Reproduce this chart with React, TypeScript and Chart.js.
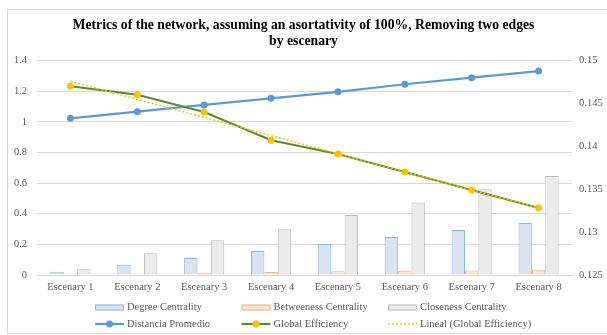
import { useEffect, useRef } from 'react';
import { Chart, registerables } from 'chart.js';

Chart.register(...registerables);

const categories = [
  'Escenary 1', 'Escenary 2', 'Escenary 3', 'Escenary 4',
  'Escenary 5', 'Escenary 6', 'Escenary 7', 'Escenary 8',
];
const degreeCentrality = [0.021, 0.067, 0.111, 0.157, 0.202, 0.248, 0.294, 0.339];
const betweenessCentrality = [0.001, 0.003, 0.013, 0.019, 0.024, 0.028, 0.029, 0.035];
const closenessCentrality = [0.041, 0.142, 0.226, 0.298, 0.392, 0.474, 0.559, 0.646];
const distanciaPromedio = [1.023, 1.066, 1.11, 1.153, 1.196, 1.245, 1.288, 1.331];
const globalEfficiency = [0.147, 0.146, 0.144, 0.1407, 0.1391, 0.137, 0.1349, 0.1328];

const titleLines = [
  'Metrics of the network, assuming an asortativity of 100%, Removing two edges',
  'by escenary',
];

// Excel-style linear trendline (least squares) of the Global Efficiency series
function linearTrend(values: number[]): number[] {
  const n = values.length;
  const xs = values.map((_, i) => i + 1);
  const mx = xs.reduce((a, b) => a + b, 0) / n;
  const my = values.reduce((a, b) => a + b, 0) / n;
  let num = 0;
  let den = 0;
  for (let i = 0; i < n; i++) {
    num += (xs[i] - mx) * (values[i] - my);
    den += (xs[i] - mx) * (xs[i] - mx);
  }
  const slope = num / den;
  const intercept = my - slope * mx;
  return xs.map((x) => intercept + slope * x);
}

const SERIF = '"Liberation Serif", "Times New Roman", serif';
const TICK_COLOR = '#595959';
const GRID_COLOR = '#d9d9d9';

const fmt = (v: number | string) => String(parseFloat(Number(v).toFixed(4)));

const legendPlugin = {
  id: 'excelLegend',
  afterDraw(chart: any) {
    const ctx = chart.ctx as CanvasRenderingContext2D;
    const left = 95;
    const colW = 146.5;
    const top = 307.5;
    const rowH = 16.5;
    const symW = 29;
    ctx.save();
    ctx.font = `10.5px ${SERIF}`;
    ctx.textBaseline = 'middle';
    ctx.textAlign = 'left';
    chart.data.datasets.forEach((ds: any, i: number) => {
      const col = i % 3;
      const row = Math.floor(i / 3);
      const x = left + col * colW;
      const y = top + row * rowH;
      if (ds.type === 'bar') {
        ctx.fillStyle = ds.backgroundColor;
        ctx.fillRect(x, y - 3, symW, 6);
        ctx.strokeStyle = ds.borderColor;
        ctx.lineWidth = 1;
        ctx.strokeRect(x + 0.5, y - 2.5, symW - 1, 5);
      } else {
        ctx.strokeStyle = ds.borderColor;
        ctx.lineWidth = ds.borderWidth;
        ctx.setLineDash(ds.borderDash || []);
        ctx.beginPath();
        ctx.moveTo(x, y);
        ctx.lineTo(x + symW, y);
        ctx.stroke();
        ctx.setLineDash([]);
        if (ds.pointRadius > 0) {
          ctx.fillStyle = ds.pointBackgroundColor;
          ctx.beginPath();
          ctx.arc(x + symW / 2, y, ds.pointRadius, 0, Math.PI * 2);
          ctx.fill();
        }
      }
      ctx.fillStyle = TICK_COLOR;
      ctx.fillText(ds.label, x + symW + 3, y);
    });
    ctx.restore();
  },
};

export default function App() {
  const canvasRef = useRef<HTMLCanvasElement | null>(null);

  useEffect(() => {
    if (!canvasRef.current) return;
    const trend = linearTrend(globalEfficiency);
    const chart = new Chart(canvasRef.current, {
      data: {
        labels: categories,
        datasets: [
          {
            type: 'bar',
            label: 'Degree Centrality',
            data: degreeCentrality,
            yAxisID: 'y',
            backgroundColor: '#dae3f3',
            borderColor: '#8fb6e0',
            borderWidth: 1,
            categoryPercentage: 0.6,
            barPercentage: 1,
            order: 5,
          },
          {
            type: 'bar',
            label: 'Betweeness Centrality',
            data: betweenessCentrality,
            yAxisID: 'y',
            backgroundColor: '#fbe5d6',
            borderColor: '#f4b183',
            borderWidth: 1,
            categoryPercentage: 0.6,
            barPercentage: 1,
            order: 5,
          },
          {
            type: 'bar',
            label: 'Closeness Centrality',
            data: closenessCentrality,
            yAxisID: 'y',
            backgroundColor: '#ebebeb',
            borderColor: '#bcbcbc',
            borderWidth: 1,
            categoryPercentage: 0.6,
            barPercentage: 1,
            order: 5,
          },
          {
            type: 'line',
            label: 'Distancia Promedio',
            data: distanciaPromedio,
            yAxisID: 'y',
            borderColor: '#5b9bd5',
            backgroundColor: '#5b9bd5',
            borderWidth: 2.25,
            pointRadius: 3.5,
            pointBackgroundColor: '#5b9bd5',
            pointBorderWidth: 0,
            tension: 0,
            order: 3,
          },
          {
            type: 'line',
            label: 'Global Efficiency',
            data: globalEfficiency,
            yAxisID: 'y1',
            borderColor: '#5a8a32',
            backgroundColor: '#ffc000',
            borderWidth: 2,
            pointRadius: 3.5,
            pointBackgroundColor: '#ffc000',
            pointBorderWidth: 0,
            tension: 0,
            order: 2,
          },
          {
            type: 'line',
            label: 'Lineal (Global Efficiency)',
            data: trend,
            yAxisID: 'y1',
            borderColor: '#ffc000',
            backgroundColor: '#ffc000',
            borderWidth: 1.5,
            borderDash: [2, 2],
            pointRadius: 0,
            tension: 0,
            order: 1,
          },
        ],
      } as any,
      options: {
        responsive: false,
        animation: false,
        devicePixelRatio: 1,
        layout: { padding: { left: 0, right: 0, top: 0, bottom: 40 } },
        plugins: {
          legend: { display: false },
          tooltip: { enabled: false },
          title: {
            display: true,
            text: titleLines,
            color: '#000000',
            font: { family: SERIF, size: 13.7, weight: 'bold', lineHeight: 16 / 13.7 },
            padding: { top: 17, bottom: 11.5 },
          },
        },
        scales: {
          x: {
            offset: true,
            grid: { display: false, drawTicks: false },
            border: { display: true, color: GRID_COLOR },
            ticks: {
              color: TICK_COLOR,
              font: { family: SERIF, size: 10.5 },
              padding: 6,
              maxRotation: 0,
              autoSkip: false,
            },
            afterFit: (s: any) => { s.height = 20; },
          },
          y: {
            position: 'left',
            min: 0,
            max: 1.4,
            grid: { color: GRID_COLOR, drawTicks: false },
            border: { display: false },
            ticks: {
              stepSize: 0.2,
              color: TICK_COLOR,
              font: { family: SERIF, size: 10.5 },
              padding: 10,
              callback: (v: any) => fmt(v),
            },
            afterFit: (s: any) => { s.width = 37; },
          },
          y1: {
            position: 'right',
            min: 0.125,
            max: 0.15,
            grid: { drawOnChartArea: false, drawTicks: false },
            border: { display: false },
            ticks: {
              stepSize: 0.005,
              color: TICK_COLOR,
              font: { family: SERIF, size: 10.5 },
              padding: 7,
              callback: (v: any) => fmt(v),
            },
            afterFit: (s: any) => { s.width = 35; },
          },
        },
      } as any,
      plugins: [legendPlugin],
    });
    return () => chart.destroy();
  }, []);

  return (
    <div style={{ position: 'fixed', left: 0, top: 0, width: 607, height: 335, background: '#ffffff' }}>
      <canvas ref={canvasRef} width={607} height={335} style={{ display: 'block', width: 607, height: 335 }} />
      <div
        style={{
          position: 'absolute',
          left: 7,
          top: 9,
          width: 620,
          height: 323,
          border: '1px solid #d9d9d9',
          pointerEvents: 'none',
        }}
      />
    </div>
  );
}
